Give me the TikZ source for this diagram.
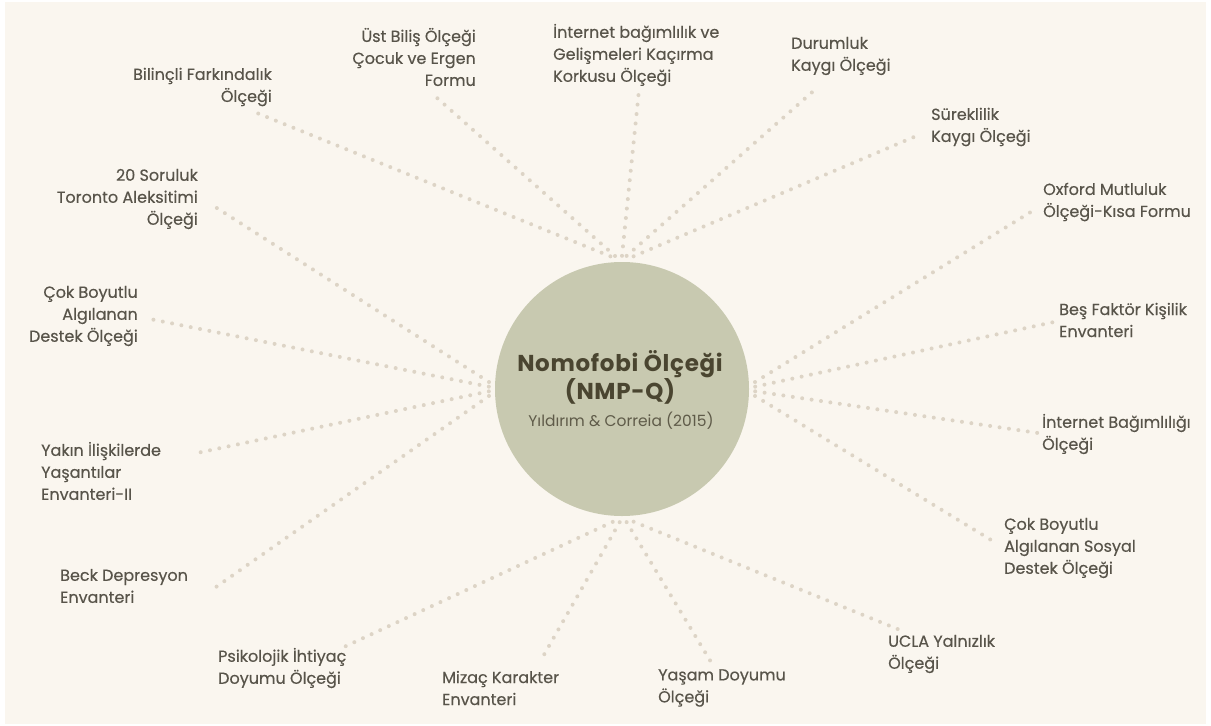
\documentclass[tikz,border=0pt]{standalone}
\usepackage{fontspec}
\setmainfont{Poppins}
\usetikzlibrary{shapes.geometric}

\definecolor{zemin}{HTML}{FAF6EF}
\definecolor{adacay}{HTML}{C8C9B0}
\definecolor{baslik}{HTML}{4A4530}
\definecolor{altyazi}{HTML}{5F5B49}
\definecolor{yazi}{HTML}{58544A}
\definecolor{nokta}{HTML}{DDD4C6}

\tikzset{
  olcek/.style={inner sep=0pt, text=yazi, font=\fontsize{16}{22}\selectfont\addfontfeatures{FakeBold=0.35}},
  solda/.style={olcek, anchor=east, align=right},
  sagda/.style={olcek, anchor=west, align=left},
  merkez/.style={circle, fill=adacay, minimum size=254pt, inner sep=0pt},
  baslikyazi/.style={inner sep=0pt, align=center, text=baslik, font=\bfseries\fontsize{23}{28}\selectfont\addfontfeatures{LetterSpace=3}},
  kaynakyazi/.style={inner sep=0pt, text=altyazi, font=\fontsize{15.5}{18}\selectfont},
  halka/.style={circle, minimum size=266pt, inner sep=0pt},
  baglanti/.style={nokta, line width=4pt, line cap=round, dash pattern=on 0pt off 9.5pt}
}

\begin{document}
\begin{tikzpicture}[x=1pt, y=-1pt]
    % 背景
    \fill[white] (0,0) rectangle (1211,726);
    \fill[zemin] (5,2) rectangle (1206,724);
    \useasboundingbox (0,0) rectangle (1211,726);

    % 中心圆
    \node[merkez] (hub) at (622,389) {};
    \node[halka] (ring) at (622,389) {};
    \node[baslikyazi] (title) at (620,377) {Nomofobi Ölçeği\\(NMP-Q)};
    \node[kaynakyazi] (kaynak) at (621,421) {Yıldırım \& Correia (2015)};

    % 上方
    \node[solda] (bilincli) at (272,87) {Bilinçli Farkındalık\\Ölçeği};
    \node[solda] (ustbilis) at (476,57) {Üst Biliş Ölçeği\\Çocuk ve Ergen\\Formu};
    \node[sagda] (fomo) at (553,55) {İnternet bağımlılık ve\\Gelişmeleri Kaçırma\\Korkusu Ölçeği};
    \node[sagda] (durumluk) at (791,56) {Durumluk\\Kaygı Ölçeği};
    \node[sagda] (sureklilik) at (931,127) {Süreklilik\\Kaygı Ölçeği};

    % 右方
    \node[sagda] (oxford) at (1043,202) {Oxford Mutluluk\\Ölçeği-Kısa Formu};
    \node[sagda] (besfaktor) at (1059,320) {Beş Faktör Kişilik\\Envanteri};
    \node[sagda] (intbag) at (1042,434) {İnternet Bağımlılığı\\Ölçeği};
    \node[sagda] (sosyal) at (1004,548) {Çok Boyutlu\\Algılanan Sosyal\\Destek Ölçeği};

    % 下方
    \node[sagda] (ucla) at (888,654) {UCLA Yalnızlık\\Ölçeği};
    \node[sagda] (yasam) at (658,688) {Yaşam Doyumu\\Ölçeği};
    \node[sagda] (mizac) at (442,688) {Mizaç Karakter\\Envanteri};
    \node[sagda] (psikolojik) at (218,668) {Psikolojik İhtiyaç\\Doyumu Ölçeği};

    % 左方
    \node[sagda] (beck) at (60,586) {Beck Depresyon\\Envanteri};
    \node[sagda] (yakin) at (41,471) {Yakın İlişkilerde\\Yaşantılar\\Envanteri-II};
    \node[solda] (cokboyutlu) at (138,316) {Çok Boyutlu\\Algılanan\\Destek Ölçeği};
    \node[solda] (toronto) at (198,199) {20 Soruluk\\Toronto Aleksitimi\\Ölçeği};

    % 连线的外端
    \coordinate (u-bilincli) at (252,111);
    \coordinate (u-ustbilis) at (436,97);
    \coordinate (u-fomo) at (639,90);
    \coordinate (u-durumluk) at (818,87);
    \coordinate (u-sureklilik) at (921,134);
    \coordinate (u-oxford) at (1034,210);
    \coordinate (u-besfaktor) at (1054,322);
    \coordinate (u-intbag) at (1038,433);
    \coordinate (u-sosyal) at (996,543);
    \coordinate (u-ucla) at (900,630);
    \coordinate (u-yasam) at (714,667);
    \coordinate (u-mizac) at (541,660);
    \coordinate (u-psikolojik) at (344,647);
    \coordinate (u-beck) at (216,587);
    \coordinate (u-yakin) at (197,453);
    \coordinate (u-cokboyutlu) at (145,318);
    \coordinate (u-toronto) at (209,203);

    % 点线
    \draw[baglanti] (ring.95) -- (u-bilincli);
    \draw[baglanti] (ring.93) -- (u-ustbilis);
    \draw[baglanti] (ring.90) -- (u-fomo);
    \draw[baglanti] (ring.88) -- (u-durumluk);
    \draw[baglanti] (ring.85) -- (u-sureklilik);
    \draw[baglanti] (ring.3) -- (u-oxford);
    \draw[baglanti] (ring.1) -- (u-besfaktor);
    \draw[baglanti] (ring.-1) -- (u-intbag);
    \draw[baglanti] (ring.-3) -- (u-sosyal);
    \draw[baglanti] (ring.-85) -- (u-ucla);
    \draw[baglanti] (ring.-88) -- (u-yasam);
    \draw[baglanti] (ring.-91) -- (u-mizac);
    \draw[baglanti] (ring.-94) -- (u-psikolojik);
    \draw[baglanti] (ring.183) -- (u-beck);
    \draw[baglanti] (ring.181) -- (u-yakin);
    \draw[baglanti] (ring.179) -- (u-cokboyutlu);
    \draw[baglanti] (ring.177) -- (u-toronto);
  \end{tikzpicture}
\end{document}
